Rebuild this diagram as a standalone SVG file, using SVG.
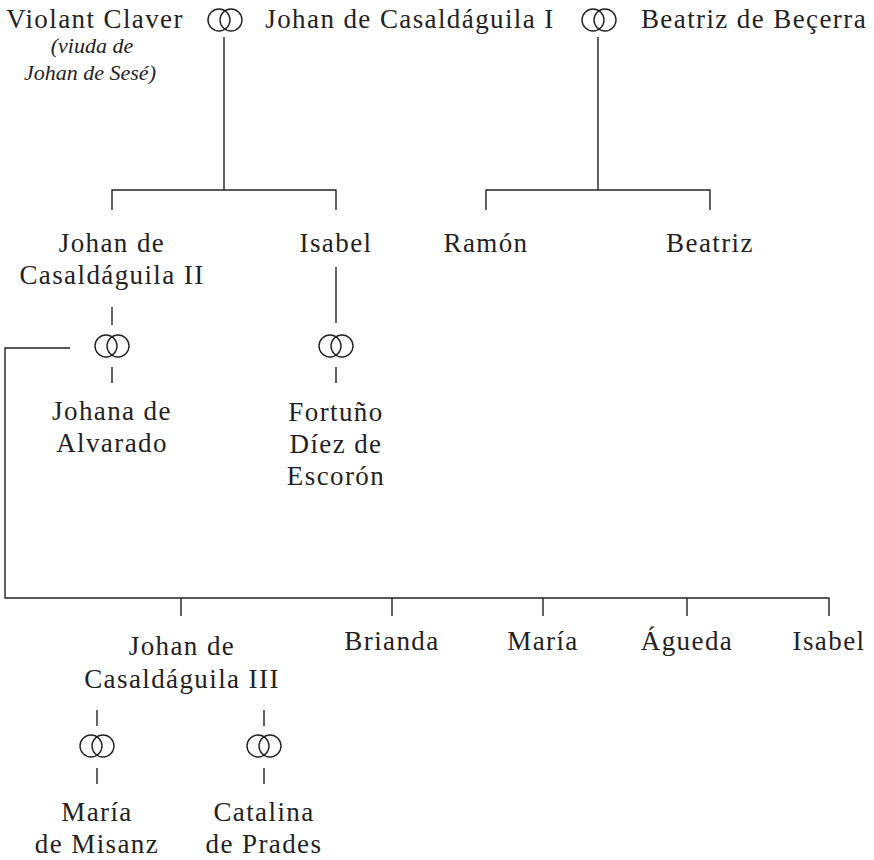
<svg xmlns="http://www.w3.org/2000/svg" width="874" height="860" viewBox="0 0 874 860">
<style>
.t{font-family:"Liberation Serif","Times New Roman",serif;font-size:27px;letter-spacing:1.4px;fill:#222;text-anchor:middle}
.i{font-family:"Liberation Serif","Times New Roman",serif;font-size:22px;font-style:italic;fill:#222;text-anchor:middle}
.c{stroke:#222;stroke-width:1.4;fill:none}
</style>
<defs>
<g id="rings" class="c">
<circle cx="-6" cy="0" r="11"/>
<circle cx="6" cy="0" r="11"/>
</g>
</defs>
<rect width="874" height="860" fill="#fff"/>
<g id="connectors" class="c">
<path d="M224 37V190M112 210V190H336V210"/>
<path d="M598 37V190M486 210V190H710V210"/>
<path d="M112 307V325M112 367V383"/>
<path d="M336 267V323M336 367V383"/>
<path d="M70 348H5V598H829V616M181 598V616M392 598V616M543 598V616M687 598V616"/>
<path d="M97 710V726M97 768V784"/>
<path d="M264 710V726M264 768V784"/>
</g>
<g id="marriage1"><use href="#rings" x="225" y="20"/></g>
<g id="marriage2"><use href="#rings" x="599" y="20"/></g>
<g id="marriage3"><use href="#rings" x="112" y="346"/></g>
<g id="marriage4"><use href="#rings" x="336" y="346"/></g>
<g id="marriage5"><use href="#rings" x="97" y="746"/></g>
<g id="marriage6"><use href="#rings" x="264" y="746"/></g>
<g id="violant"><text class="t" x="95" y="28">Violant Claver</text><text class="i" x="92" y="53">(viuda de</text><text class="i" x="90" y="80">Johan de Sesé)</text></g>
<g id="johan1"><text class="t" x="410" y="28">Johan de Casaldáguila I</text></g>
<g id="beatriz-becerra"><text class="t" x="754" y="28">Beatriz de Beçerra</text></g>
<g id="johan2"><text class="t" x="112" y="252">Johan de</text><text class="t" x="112" y="284">Casaldáguila II</text></g>
<g id="isabel1"><text class="t" x="336" y="252">Isabel</text></g>
<g id="ramon"><text class="t" x="486" y="252">Ramón</text></g>
<g id="beatriz"><text class="t" x="710" y="252">Beatriz</text></g>
<g id="johana"><text class="t" x="112" y="420">Johana de</text><text class="t" x="112" y="452">Alvarado</text></g>
<g id="fortuno"><text class="t" x="336" y="421">Fortuño</text><text class="t" x="336" y="453">Díez de</text><text class="t" x="336" y="485">Escorón</text></g>
<g id="johan3"><text class="t" x="182" y="655">Johan de</text><text class="t" x="182" y="688">Casaldáguila III</text></g>
<g id="brianda"><text class="t" x="392" y="650">Brianda</text></g>
<g id="maria"><text class="t" x="543" y="650">María</text></g>
<g id="agueda"><text class="t" x="687" y="650">Águeda</text></g>
<g id="isabel2"><text class="t" x="829" y="650">Isabel</text></g>
<g id="maria-misanz"><text class="t" x="97" y="821">María</text><text class="t" x="97" y="853">de Misanz</text></g>
<g id="catalina"><text class="t" x="264" y="821">Catalina</text><text class="t" x="264" y="853">de Prades</text></g>
</svg>
